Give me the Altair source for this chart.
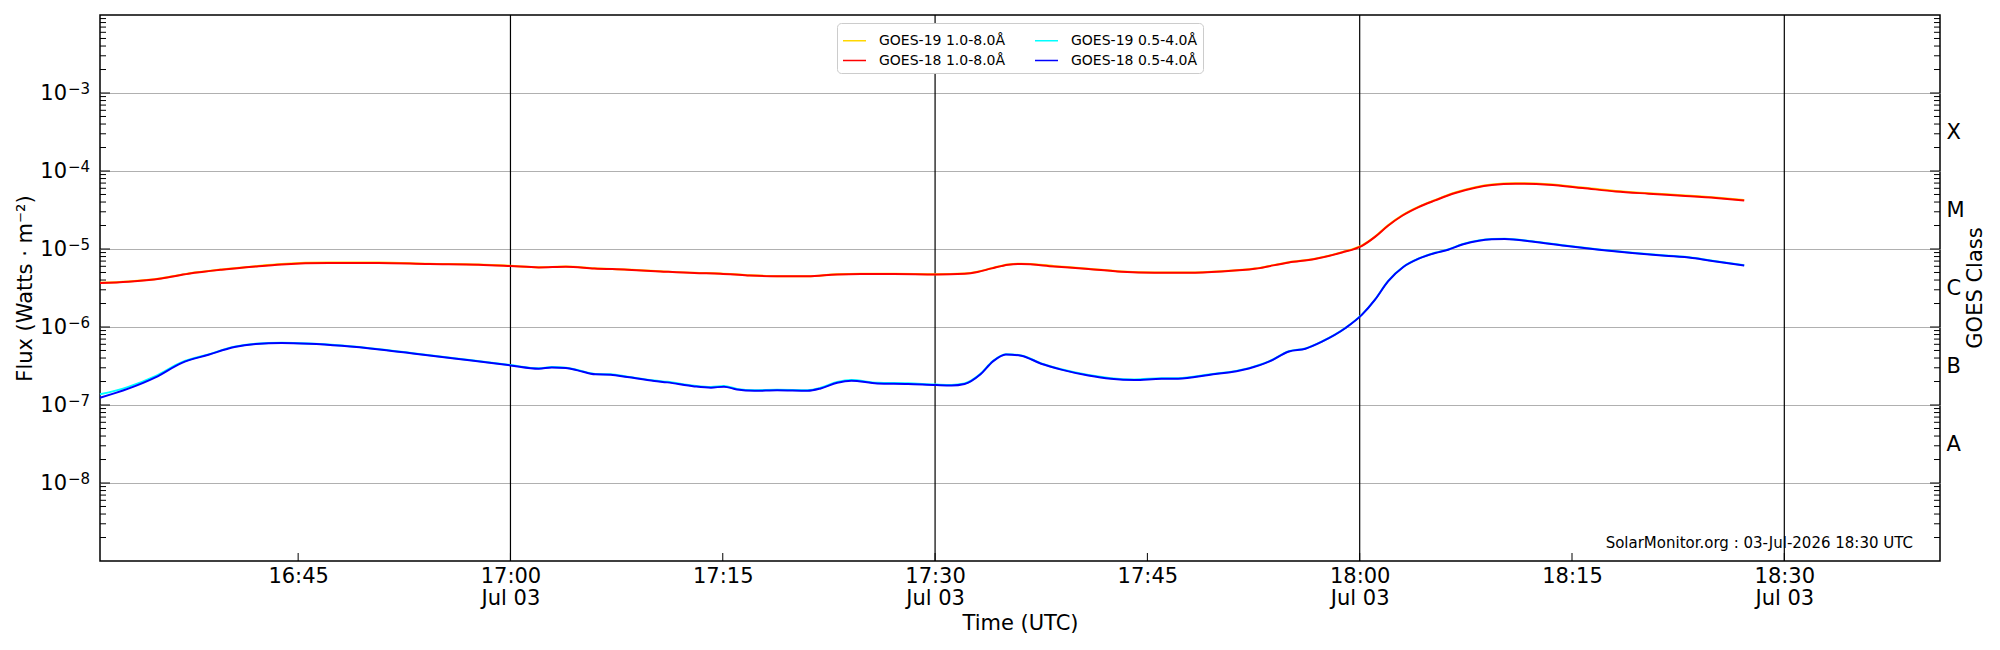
import json
import math
import altair as alt
import pandas as pd

DATE = "2026-07-03"

# GOES-18 1.0-8.0 A (long channel)
LONG_T = ["16:31:00","16:33:00","16:35:20","16:37:15","16:39:35","16:42:00","16:43:50","16:47:10","16:50:40","16:54:15",
          "16:57:45","17:00:00","17:02:00","17:03:55","17:05:55","17:08:15","17:10:35","17:13:00","17:14:50","17:16:45",
          "17:18:50","17:21:00","17:23:05","17:24:45","17:27:05","17:30:05","17:32:05","17:33:00","17:34:00","17:35:10",
          "17:36:05","17:38:25","17:40:50","17:43:10","17:45:30","17:47:55","17:50:15","17:52:35","17:55:00","17:56:50",
          "17:58:45","18:00:10","18:01:05","18:02:00","18:03:00","18:04:10","18:05:20","18:06:45","18:08:10","18:09:20",
          "18:11:00","18:13:20","18:15:45","18:18:05","18:20:25","18:22:45","18:25:10","18:27:10"]
G18_LONG = [3.66e-6,3.81e-6,4.20e-6,4.82e-6,5.43e-6,5.98e-6,6.35e-6,6.62e-6,6.62e-6,6.42e-6,
            6.29e-6,6.05e-6,5.81e-6,5.93e-6,5.64e-6,5.43e-6,5.16e-6,4.92e-6,4.82e-6,4.59e-6,
            4.46e-6,4.46e-6,4.72e-6,4.78e-6,4.78e-6,4.72e-6,4.82e-6,5.07e-6,5.64e-6,6.29e-6,
            6.44e-6,5.98e-6,5.55e-6,5.12e-6,4.97e-6,4.97e-6,5.16e-6,5.58e-6,6.73e-6,7.44e-6,
            9.04e-6,1.10e-5,1.43e-5,1.99e-5,2.67e-5,3.45e-5,4.20e-5,5.22e-5,6.11e-5,6.62e-5,
            6.88e-5,6.67e-5,6.05e-5,5.47e-5,5.12e-5,4.82e-5,4.51e-5,4.20e-5]
G19_LONG = [3.68e-6,3.83e-6,4.22e-6,4.85e-6,5.47e-6,6.03e-6,6.42e-6,6.70e-6,6.70e-6,6.48e-6,
            6.33e-6,6.09e-6,5.84e-6,5.96e-6,5.67e-6,5.46e-6,5.19e-6,4.95e-6,4.85e-6,4.62e-6,
            4.49e-6,4.49e-6,4.75e-6,4.81e-6,4.81e-6,4.75e-6,4.85e-6,5.10e-6,5.68e-6,6.34e-6,
            6.49e-6,6.03e-6,5.59e-6,5.15e-6,5.00e-6,5.00e-6,5.19e-6,5.62e-6,6.78e-6,7.50e-6,
            9.12e-6,1.11e-5,1.44e-5,2.01e-5,2.70e-5,3.49e-5,4.25e-5,5.29e-5,6.19e-5,6.72e-5,
            6.99e-5,6.78e-5,6.14e-5,5.55e-5,5.19e-5,4.88e-5,4.56e-5,4.24e-5]

# 0.5-4.0 A (short channel)
SHORT_T = ["16:31:00","16:33:00","16:34:55","16:36:45","16:38:40","16:40:30","16:42:00","16:43:50","16:45:45","16:48:05",
           "16:50:55","16:53:15","16:55:10","16:57:15","17:00:00","17:02:00","17:02:55","17:03:55","17:04:45","17:06:00",
           "17:07:05","17:08:15","17:10:10","17:11:05","17:13:00","17:14:10","17:15:05","17:16:00","17:17:15","17:18:50",
           "17:21:00","17:21:55","17:23:05","17:24:05","17:25:55","17:28:05","17:30:05","17:31:10","17:32:05","17:33:10",
           "17:34:05","17:35:00","17:36:05","17:37:30","17:38:55","17:40:50","17:42:25","17:44:05","17:46:00","17:47:10",
           "17:49:20","17:52:10","17:53:35","17:55:00","17:56:10","17:57:20","17:59:00","18:00:10","18:01:05","18:02:00",
           "18:03:05","18:04:10","18:05:20","18:06:15","18:07:15","18:08:25","18:09:20","18:10:15","18:12:10","18:14:30",
           "18:16:55","18:19:15","18:21:35","18:23:30","18:25:10","18:27:10"]
G18_SHORT = [1.24e-7,1.62e-7,2.26e-7,3.45e-7,4.41e-7,5.54e-7,6.05e-7,6.24e-7,6.11e-7,5.75e-7,
             5.12e-7,4.55e-7,4.12e-7,3.73e-7,3.22e-7,2.92e-7,3.03e-7,2.98e-7,2.78e-7,2.47e-7,
             2.44e-7,2.28e-7,2.03e-7,1.95e-7,1.73e-7,1.67e-7,1.72e-7,1.58e-7,1.52e-7,1.54e-7,
             1.52e-7,1.63e-7,1.93e-7,2.05e-7,1.89e-7,1.86e-7,1.80e-7,1.78e-7,1.86e-7,2.44e-7,
             3.62e-7,4.45e-7,4.29e-7,3.38e-7,2.84e-7,2.39e-7,2.17e-7,2.09e-7,2.17e-7,2.17e-7,
             2.43e-7,2.94e-7,3.59e-7,4.86e-7,5.27e-7,6.49e-7,9.71e-7,1.44e-6,2.24e-6,3.85e-6,
             5.88e-6,7.51e-6,8.89e-6,9.80e-6,1.14e-5,1.28e-5,1.33e-5,1.34e-5,1.25e-5,1.10e-5,
             9.80e-6,8.89e-6,8.21e-6,7.67e-6,6.93e-6,6.16e-6]
G19_SHORT = [1.37e-7,1.71e-7,2.35e-7,3.52e-7,4.46e-7,5.60e-7,6.10e-7,6.28e-7,6.15e-7,5.79e-7,
             5.15e-7,4.58e-7,4.15e-7,3.76e-7,3.25e-7,2.95e-7,3.06e-7,3.01e-7,2.81e-7,2.50e-7,
             2.47e-7,2.31e-7,2.06e-7,1.98e-7,1.76e-7,1.70e-7,1.75e-7,1.61e-7,1.55e-7,1.57e-7,
             1.55e-7,1.66e-7,1.97e-7,2.09e-7,1.93e-7,1.90e-7,1.83e-7,1.81e-7,1.89e-7,2.47e-7,
             3.65e-7,4.48e-7,4.32e-7,3.41e-7,2.87e-7,2.42e-7,2.21e-7,2.13e-7,2.21e-7,2.21e-7,
             2.46e-7,2.97e-7,3.62e-7,4.89e-7,5.30e-7,6.52e-7,9.75e-7,1.45e-6,2.25e-6,3.87e-6,
             5.91e-6,7.55e-6,8.94e-6,9.86e-6,1.15e-5,1.29e-5,1.34e-5,1.35e-5,1.26e-5,1.11e-5,
             9.87e-6,8.96e-6,8.27e-6,7.73e-6,6.98e-6,6.20e-6]

assert len(LONG_T) == len(G18_LONG) == len(G19_LONG)
assert len(SHORT_T) == len(G18_SHORT) == len(G19_SHORT)

# legend order (filled column by column): G19 long, G18 long | G19 short, G18 short
SERIES = ["GOES-19 1.0-8.0Å", "GOES-18 1.0-8.0Å", "GOES-19 0.5-4.0Å", "GOES-18 0.5-4.0Å"]
COLORS = ["gold", "red", "cyan", "blue"]

X_DOMAIN = ["16:31:00", "18:41:00"]
X_TICKS = ["16:45", "17:00", "17:15", "17:30", "17:45", "18:00", "18:15", "18:30"]
V_LINES = ["17:00", "17:30", "18:00", "18:30"]
Y_TICKS = [1e-8, 1e-7, 1e-6, 1e-5, 1e-4, 1e-3]
Y_DOMAIN = [1e-9, 1e-2]
CLASSES = ["X", "M", "C", "B", "A"]
CLASS_LOWER = [1e-4, 1e-5, 1e-6, 1e-7, 1e-8]
STAMP = "SolarMonitor.org : 03-Jul-2026 18:30 UTC"
RIGHT_TITLE = "GOES Class"


def iso(hms):
    if len(hms) == 5:
        hms += ":00"
    return f"{DATE}T{hms}Z"


def ms(hms):
    if len(hms) == 5:
        hms += ":00"
    return int(pd.Timestamp(f"{DATE}T{hms}", tz="UTC").value // 10**6)


def frame(times, vals, name):
    return pd.DataFrame({"t": [iso(t) for t in times], "flux": vals, "series": name})


df19 = pd.concat([frame(LONG_T, G19_LONG, SERIES[0]), frame(SHORT_T, G19_SHORT, SERIES[2])])
df18 = pd.concat([frame(LONG_T, G18_LONG, SERIES[1]), frame(SHORT_T, G18_SHORT, SERIES[3])])

W, H = 1840, 546
FONT = "DejaVu Sans"
FS = 21

xscale = alt.Scale(type="utc", domain=[ms(X_DOMAIN[0]), ms(X_DOMAIN[1])])
yscale = alt.Scale(type="log", domain=Y_DOMAIN)
cscale = alt.Scale(domain=SERIES, range=COLORS)

xaxis = alt.Axis(
    values=[ms(t) for t in X_TICKS],
    labelExpr="utcminutes(datum.value) % 30 == 0 ? [utcFormat(datum.value, '%H:%M'), utcFormat(datum.value, '%b %d')] : utcFormat(datum.value, '%H:%M')",
    ticks=False, domain=False, grid=False, labelFlush=False, labelOverlap=False,
    labelFontSize=FS, labelLineHeight=22, labelPadding=4, labelBaseline="top",
    title="Time (UTC)", titleFontSize=FS, titleFontWeight="normal",
    titleY=62, titleBaseline="middle",
)

left_axis = alt.Axis(
    values=Y_TICKS, labels=False,
    ticks=False, domain=False, grid=True, gridColor="#b0b0b0", gridWidth=1.1,
    title="Flux (Watts · m⁻²)", titleFontSize=FS, titleFontWeight="normal",
    titleX=-75, titleY=H / 2, titleAngle=270, titleAlign="center", titleBaseline="middle",
)

class_pos = [v * 10 ** 0.5 for v in CLASS_LOWER]
right_axis = alt.Axis(
    orient="right", values=class_pos,
    labelExpr=json.dumps(CLASSES) + "[-4 - floor(log(datum.value)/LN10 + 1e-9)]",
    ticks=False, domain=False, grid=False, title=None,
    labelFontSize=FS, labelPadding=6, labelAlign="left", labelBaseline="middle",
)

legend = alt.Legend(
    title=None, orient="none", legendX=737, legendY=8, columns=2,
    symbolType="stroke", symbolSize=529, symbolStrokeWidth=1.5,
    labelFontSize=14, labelOffset=12, labelFont=FONT, columnPadding=26, rowPadding=0,
    padding=5, fillColor="white", strokeColor="#cccccc", cornerRadius=4,
)

vlines = alt.Chart(pd.DataFrame({"t": [iso(t) for t in V_LINES]})).mark_rule(
    color="black", strokeWidth=1.2
).encode(x=alt.X("t:T", scale=xscale, axis=xaxis), y=alt.value(0), y2=alt.value(H))

bticks = alt.Chart(pd.DataFrame({"t": [iso(t) for t in X_TICKS]})).mark_rule(
    color="black", strokeWidth=1
).encode(x=alt.X("t:T", scale=xscale, axis=xaxis), y=alt.value(H - 8), y2=alt.value(H))

lines19 = alt.Chart(df19).mark_line(strokeWidth=2, interpolate="monotone").encode(
    x=alt.X("t:T", scale=xscale, axis=xaxis),
    y=alt.Y("flux:Q", scale=yscale, axis=left_axis),
    color=alt.Color("series:N", scale=cscale, legend=legend),
    detail="series:N",
)
lines18 = alt.Chart(df18).mark_line(strokeWidth=2, interpolate="monotone").encode(
    x=alt.X("t:T", scale=xscale, axis=xaxis),
    y=alt.Y("flux:Q", scale=yscale, axis=None),
    color=alt.Color("series:N", scale=cscale, legend=legend),
    detail="series:N",
)

# y tick labels drawn as "10" plus a raised exponent
ylab = pd.DataFrame({
    "v": Y_TICKS,
    "base": ["10"] * len(Y_TICKS),
    "exp": ["\u2212" + str(-round(math.log10(v))) for v in Y_TICKS],
})
ybase = alt.Chart(ylab).mark_text(
    align="right", baseline="middle", fontSize=FS, font=FONT, color="black", dy=1
).encode(x=alt.value(-33), y=alt.Y("v:Q", scale=yscale, axis=None), text="base:N")
yexp = alt.Chart(ylab).mark_text(
    align="left", baseline="alphabetic", fontSize=15, font=FONT, color="black", dy=1
).encode(x=alt.value(-32), y=alt.Y("v:Q", scale=yscale, axis=None), text="exp:N")

major = pd.DataFrame({"v": [10.0 ** e for e in range(-8, -2)]})
minor = pd.DataFrame({"v": [m * 10.0 ** e for e in range(-9, -2) for m in range(2, 10)]})


def ticks(df, x0, x1, axis=None):
    return alt.Chart(df).mark_rule(color="black", strokeWidth=1).encode(
        x=alt.value(x0), x2=alt.value(x1), y=alt.Y("v:Q", scale=yscale, axis=axis)
    )


lmaj = ticks(major, 0, 10)
lmin = ticks(minor, 0, 6)
rmaj = ticks(major, W - 10, W)
rmin = ticks(minor, W - 6, W, right_axis)

stamp = alt.Chart(pd.DataFrame({"s": [STAMP]})).mark_text(
    align="right", baseline="middle", fontSize=15, font=FONT, color="black"
).encode(x=alt.value(1813), y=alt.value(528), text="s:N")

rtitle = alt.Chart(pd.DataFrame({"s": [RIGHT_TITLE]})).mark_text(
    align="center", baseline="middle", fontSize=FS, font=FONT, color="black", angle=270
).encode(x=alt.value(W + 36), y=alt.value(H / 2), text="s:N")

chart = (
    alt.layer(vlines, lines19, lines18, bticks, lmaj, lmin, rmaj, rmin, ybase, yexp, stamp, rtitle)
    .resolve_scale(y="independent")
    .properties(
        width=W, height=H,
        autosize=alt.AutoSizeParams(type="none"),
        padding={"left": 92, "top": 7, "right": 52, "bottom": 80},
    )
    .configure(font=FONT)
    .configure_view(stroke="black", strokeWidth=1.5)
    .configure_axis(labelColor="black", titleColor="black", labelFont=FONT, titleFont=FONT)
    .configure_legend(labelColor="black")
)

chart.save("out.html", embed_options={"renderer": "svg", "actions": False})
